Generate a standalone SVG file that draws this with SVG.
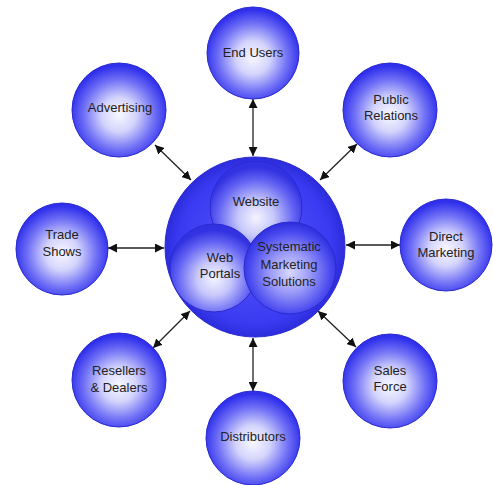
<svg xmlns="http://www.w3.org/2000/svg" width="493" height="485" viewBox="0 0 493 485">
<defs>
<radialGradient id="g" cx="50%" cy="55%" r="52%">
<stop offset="0" stop-color="#f8f8ff"/>
<stop offset="0.35" stop-color="#d4d4fc"/>
<stop offset="0.72" stop-color="#7070f6"/>
<stop offset="1" stop-color="#3030ec"/>
</radialGradient>
<radialGradient id="gbig" cx="50%" cy="50%" r="50%">
<stop offset="0" stop-color="#5a5af8"/>
<stop offset="0.85" stop-color="#3a3af2"/>
<stop offset="1" stop-color="#2c2cdc"/>
</radialGradient>
<radialGradient id="gin" cx="50%" cy="62%" r="55%">
<stop offset="0" stop-color="#f4f4ff"/>
<stop offset="0.35" stop-color="#c8c8fb"/>
<stop offset="0.75" stop-color="#6464f4"/>
<stop offset="1" stop-color="#3232e2"/>
</radialGradient>
<radialGradient id="gsms" cx="50%" cy="55%" r="55%">
<stop offset="0" stop-color="#d8d8fd"/>
<stop offset="0.4" stop-color="#9a9af8"/>
<stop offset="0.8" stop-color="#4a4af0"/>
<stop offset="1" stop-color="#2c2cdc"/>
</radialGradient>
<marker id="ah" viewBox="0 0 10 10" refX="10" refY="5" markerWidth="9" markerHeight="9" markerUnits="userSpaceOnUse" orient="auto-start-reverse">
<path d="M0,0 L10,5 L0,10 z" fill="#111"/>
</marker>
</defs>
<style>
.n{fill:url(#g);stroke:#2a2ad0;stroke-width:1}
.t{font-family:"Liberation Sans",Arial,sans-serif;font-size:13px;fill:#222;text-anchor:middle}
.c{stroke:#222;stroke-width:1.3;fill:none;marker-start:url(#ah);marker-end:url(#ah)}
</style>
<rect width="493" height="485" fill="#fff"/>
<g id="connectors">
<line class="c" x1="253" y1="99" x2="253" y2="156"/>
<line class="c" x1="155" y1="145" x2="191" y2="180"/>
<line class="c" x1="357" y1="144" x2="320" y2="180"/>
<line class="c" x1="108" y1="248" x2="164" y2="248"/>
<line class="c" x1="346" y1="245" x2="400" y2="245"/>
<line class="c" x1="153" y1="348" x2="190" y2="311"/>
<line class="c" x1="318" y1="311" x2="356" y2="347"/>
<line class="c" x1="253" y1="338" x2="253" y2="391"/>
</g>
<g id="end-users"><circle class="n" cx="253" cy="53" r="46"/><text class="t" x="253" y="57">End Users</text></g>
<g id="advertising"><circle class="n" cx="119" cy="110" r="47"/><text class="t" x="120" y="112">Advertising</text></g>
<g id="public-relations"><circle class="n" cx="390" cy="110" r="47"/><text class="t" x="391" y="104">Public</text><text class="t" x="391" y="120">Relations</text></g>
<g id="trade-shows"><circle class="n" cx="62" cy="249" r="46"/><text class="t" x="62" y="239">Trade</text><text class="t" x="62" y="256">Shows</text></g>
<g id="direct-marketing"><circle class="n" cx="446" cy="245" r="46"/><text class="t" x="446" y="241">Direct</text><text class="t" x="446" y="257">Marketing</text></g>
<g id="resellers-dealers"><circle class="n" cx="119" cy="380" r="47"/><text class="t" x="119" y="375">Resellers</text><text class="t" x="119" y="392">&amp; Dealers</text></g>
<g id="sales-force"><circle class="n" cx="390" cy="381" r="47"/><text class="t" x="390" y="375">Sales</text><text class="t" x="390" y="391">Force</text></g>
<g id="distributors"><circle class="n" cx="253" cy="438" r="47"/><text class="t" x="253" y="441">Distributors</text></g>
<g id="hub"><circle cx="255" cy="247" r="90" fill="url(#gbig)" stroke="#2a2ad0" stroke-width="1"/></g>
<g id="website"><circle cx="256" cy="207" r="46" fill="url(#gin)" stroke="#2a2ad0" stroke-width="1"/><text class="t" x="256" y="206">Website</text></g>
<g id="web-portals"><circle cx="214" cy="268" r="44" fill="url(#gin)" stroke="#2a2ad0" stroke-width="1"/><text class="t" x="220" y="262">Web</text><text class="t" x="220" y="278">Portals</text></g>
<g id="systematic-marketing-solutions"><circle cx="290" cy="268" r="46" fill="url(#gsms)" stroke="#2a2ad0" stroke-width="1"/><text class="t" x="289" y="251">Systematic</text><text class="t" x="289" y="269">Marketing</text><text class="t" x="289" y="286">Solutions</text></g>
</svg>
